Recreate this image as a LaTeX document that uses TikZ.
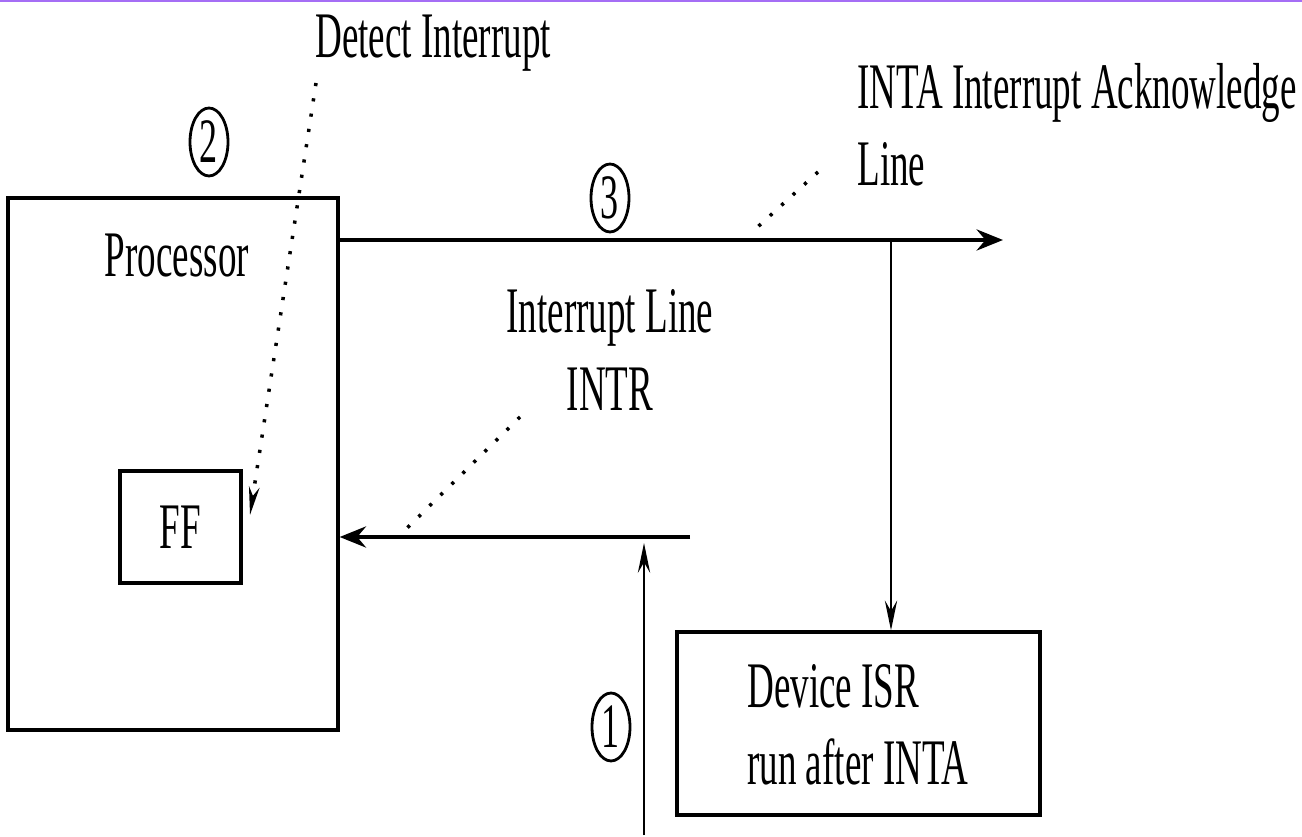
\documentclass[tikz,border=0pt]{standalone}
\usepackage{fontspec}
\setmainfont[FakeStretch=0.57]{Liberation Serif}
\usetikzlibrary{arrows.meta,shapes.geometric}
\definecolor{topbar}{RGB}{165,110,245}
\begin{document}
\begin{tikzpicture}[x=0.02cm, y=-0.02cm,
  txt/.style={inner sep=0pt, font=\fontsize{37}{44}\selectfont},
  box/.style={draw, line width=1.9pt, inner sep=0pt},
  numb/.style={draw, ellipse, line width=1.6pt, inner sep=0pt,
    minimum width=0.76cm, minimum height=1.36cm, font=\fontsize{36}{40}\selectfont},
  bus/.style={line width=2.3pt},
  wire/.style={line width=1.3pt},
  leader/.style={line width=2pt, dash pattern=on 1.8pt off 7pt}]
  \useasboundingbox (0,0) rectangle (1302,837);
  \fill[topbar] (0,0) rectangle (1302,2.5);
  % Boxes
  \node[box, minimum width=6.6cm, minimum height=10.64cm] (proc) at (173,464) {};
  \node[txt, anchor=base] (proctxt) at (177,277) {Processor};
  \node[box, txt, minimum width=2.42cm, minimum height=2.24cm] (ff) at (180.5,527) {FF};
  \node[box, minimum width=7.26cm, minimum height=3.66cm] (isr) at (858.5,723.5) {};
  \node[txt, anchor=west, align=left] (isrtxt) at (747,725) {Device ISR\\run after INTA};
  % Labels
  \node[txt, anchor=base west] (detect) at (315,58) {Detect Interrupt};
  \node[txt, anchor=west, align=left] (inta) at (857,125) {INTA Interrupt Acknowledge\\Line};
  \node[txt, align=center] (intr) at (610,350) {Interrupt Line\\INTR};
  \node[numb] (two) at (209,142) {2};
  \node[numb] (three) at (610,198) {3};
  \node[numb] (one) at (611,727) {1};
  % Lines
  \coordinate (intaout) at (338,240);
  \coordinate (intaend) at (1003,240);
  \coordinate (tap) at (891,240);
  \coordinate (intrin) at (690,537);
  \coordinate (devin) at (644,835);
  \coordinate (devtop) at (644,543);
  \draw[bus, -{Stealth[length=15pt, width=12pt, inset=5pt]}] (intaout) -- (intaend);
  \draw[wire, -{Stealth[length=17pt, width=7pt, inset=6pt]}] (tap) -- (tap |- isr.north);
  \draw[bus, -{Stealth[length=15pt, width=12pt, inset=5pt]}] (intrin) -- (intrin -| proc.east);
  \draw[wire, -{Stealth[length=17pt, width=7pt, inset=6pt]}] (devin) -- (devtop);
  % Pointers
  \coordinate (detectfrom) at (316,83);
  \coordinate (detectto) at (250,515);
  \draw[leader, -{Stealth[length=16pt, width=6pt, inset=5pt]}] (detectfrom) -- (detectto);
  \coordinate (intafrom) at (818,172);
  \coordinate (intato) at (751,233);
  \draw[leader] (intafrom) -- (intato);
  \coordinate (intrfrom) at (520,417);
  \coordinate (intrto) at (403,532);
  \draw[leader] (intrfrom) -- (intrto);
\end{tikzpicture}
\end{document}
